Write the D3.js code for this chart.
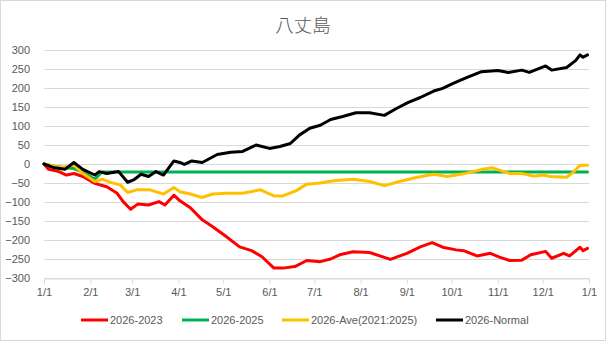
<!DOCTYPE html>
<html>
<head>
<meta charset="utf-8">
<script src="https://cdn.jsdelivr.net/npm/d3@7"></script>
<style>
  html, body { margin: 0; padding: 0; background: #fff; }
  svg { display: block; }
</style>
</head>
<body>
<svg id="chart" width="606" height="341"></svg>
<script>
// ---- data (day-of-year offsets from 2026-01-01, cumulative values) ----
const title = "八丈島";
const seriesNames = ["2026-2023", "2026-2025", "2026-Ave(2021:2025)", "2026-Normal"];
const seriesColors = ["#ff0000", "#00b050", "#ffc000", "#000000"];

const redDays = [0,3,10,15,20,26,34,42,49,53,58,63,70,77,81,87,91,98,106,113,122,131,139,146,154,160,168,176,185,192,198,207,218,232,243,252,260,267,276,281,290,299,305,312,320,326,336,340,348,352,359,361,364];
const redVals = [0,-14,-20,-29,-25,-33,-51,-60,-77,-99,-119,-105,-108,-99,-108,-82,-97,-115,-147,-165,-191,-218,-228,-244,-274,-274,-270,-254,-257,-250,-239,-231,-233,-251,-235,-218,-207,-219,-226,-228,-242,-235,-245,-254,-253,-239,-230,-248,-235,-242,-219,-228,-222];

const greenDays = [0,6,14,20,26,31,34,37,39,364];
const greenVals = [0,-5,-10,-12,-22,-33,-40,-28,-21,-21];

const yellowDays = [0,11,20,26,34,39,45,51,56,62,71,80,87,91,98,106,113,122,133,145,154,160,169,176,185,194,207,218,228,238,250,261,270,276,283,294,300,305,312,320,328,334,339,350,355,359,364];
const yellowVals = [0,-9,-3,-25,-46,-40,-49,-55,-75,-68,-68,-79,-62,-73,-79,-88,-79,-77,-77,-68,-84,-84,-70,-53,-50,-44,-40,-46,-57,-46,-35,-27,-33,-29,-24,-14,-10,-16,-25,-25,-32,-29,-33,-35,-20,-3,-3];

const blackDays = [0,6,14,20,26,34,37,42,50,56,60,65,70,75,80,87,91,94,99,106,116,125,133,142,151,158,165,171,178,185,192,200,209,218,228,236,244,252,261,267,274,283,293,304,311,320,325,336,340,350,356,359,361,364];
const blackVals = [0,-9,-14,4,-14,-29,-20,-25,-20,-48,-42,-27,-33,-20,-29,8,4,-1,8,4,25,31,33,50,41,46,54,76,94,102,117,125,135,135,128,146,162,175,192,199,212,227,243,246,241,247,241,258,247,254,272,287,281,287];

const yTicks = [-300,-250,-200,-150,-100,-50,0,50,100,150,200,250,300];
const xStart = new Date(2026, 0, 1);
const xEnd = new Date(2027, 0, 1);

// ---- drawing ----
const svg = d3.select("#chart");
const font = "'Liberation Sans', Arial, sans-serif";

svg.append("rect").attr("x", 0.5).attr("y", 0.5).attr("width", 605).attr("height", 340)
  .attr("fill", "#fff").attr("stroke", "#d9d9d9");

const x = d3.scaleTime().domain([xStart, xEnd]).range([44, 589]);
const y = d3.scaleLinear().domain([-300, 300]).range([278, 50]);

// gridlines
svg.append("g").selectAll("line").data(yTicks).join("line")
  .attr("x1", 44).attr("x2", 589)
  .attr("y1", d => Math.round(y(d)) + 0.5).attr("y2", d => Math.round(y(d)) + 0.5)
  .attr("stroke", "#d9d9d9").attr("stroke-width", 1);

// y axis
const yAxis = svg.append("g").attr("transform", "translate(44,0)")
  .call(d3.axisLeft(y).tickValues(yTicks).tickSize(0).tickPadding(14));
yAxis.select(".domain").remove();
yAxis.selectAll("text").attr("font-family", font).attr("font-size", 11).attr("fill", "#595959");

// x axis
const monthTicks = d3.timeMonth.range(xStart, d3.timeDay.offset(xEnd, 1));
const xAxis = svg.append("g").attr("transform", `translate(0,${Math.round(y(-300)) + 0.5})`)
  .call(d3.axisBottom(x).tickValues(monthTicks).tickFormat(d3.timeFormat("%-m/%-d")).tickSize(5).tickPadding(5));
xAxis.select(".domain").attr("stroke", "#d9d9d9");
xAxis.selectAll(".tick line").attr("stroke", "#d9d9d9");
xAxis.selectAll("text").attr("font-family", font).attr("font-size", 11).attr("fill", "#595959");

// lines
const seriesData = [
  [redDays, redVals], [greenDays, greenVals], [yellowDays, yellowVals], [blackDays, blackVals]
].map(([ds, vs]) => ds.map((d, i) => ({ date: d3.timeDay.offset(xStart, d), v: vs[i] })));

const line = d3.line().x(d => x(d.date)).y(d => y(d.v));
svg.append("g").selectAll("path").data(seriesData).join("path")
  .attr("d", line).attr("fill", "none")
  .attr("stroke", (d, i) => seriesColors[i])
  .attr("stroke-width", 3).attr("stroke-linejoin", "round").attr("stroke-linecap", "round");

// title
svg.append("text").attr("x", 303).attr("y", 32).attr("text-anchor", "middle")
  .attr("font-family", "'Noto Sans CJK JP', sans-serif").attr("font-size", 18.5)
  .attr("font-weight", 300)
  .attr("fill", "#595959").text(title);

// legend
const legendX = [81, 182, 282, 436];
const lg = svg.append("g").selectAll("g").data(seriesNames).join("g")
  .attr("transform", (d, i) => `translate(${legendX[i]},320)`);
lg.append("line").attr("x1", 0).attr("x2", 27).attr("y1", 0).attr("y2", 0)
  .attr("stroke", (d, i) => seriesColors[i]).attr("stroke-width", 3);
lg.append("text").attr("x", 29).attr("y", 0).attr("dy", "0.35em")
  .attr("font-family", font).attr("font-size", 11).attr("fill", "#595959").text(d => d);
</script>
</body>
</html>
